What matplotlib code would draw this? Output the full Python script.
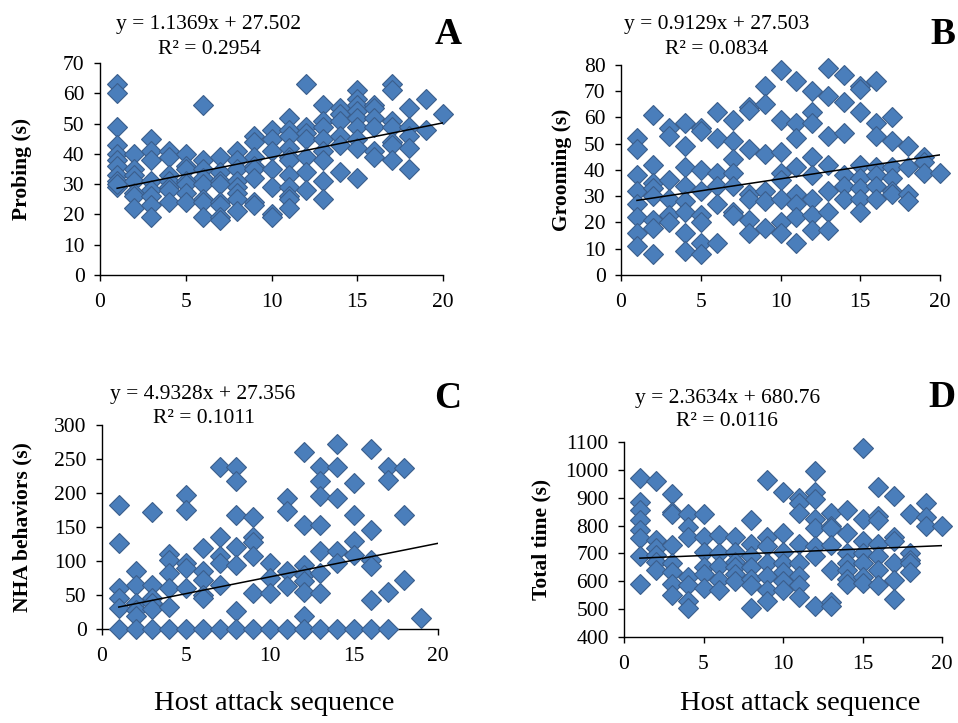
import matplotlib
matplotlib.use("Agg")
import matplotlib.pyplot as plt
import numpy as np

plt.rcParams['font.family'] = ['Liberation Serif', 'DejaVu Serif']

# ---------------- data (values per host attack sequence position 1..20) -------------
probing = [
    [63, 60, 49, 43, 40, 38, 36, 33, 31, 29, 30],
    [40, 35, 33, 31, 27, 26, 22],
    [45, 41, 38, 31, 28, 26, 23, 19],
    [41, 39, 33, 31, 29, 28, 24],
    [40, 36, 35, 31, 30, 27, 24],
    [56, 38, 35, 32, 30, 25, 24, 19],
    [39, 34, 31, 30, 24, 23, 19, 18],
    [41, 38, 35, 31, 29, 27, 25, 21],
    [46, 44, 39, 36, 35, 32, 24, 23],
    [48, 45, 41, 35, 29, 20, 19],
    [52, 48, 46, 42, 39, 38, 33, 29, 26, 25, 22],
    [63, 49, 47, 45, 39, 34, 28],
    [56, 51, 49, 45, 41, 38, 31, 25],
    [55, 53, 51, 46, 43, 34],
    [61, 58, 56, 54, 52, 49, 45, 42, 32],
    [56, 55, 52, 49, 41, 39],
    [63, 61, 51, 49, 44, 43, 38],
    [55, 49, 46, 42, 35],
    [58, 48],
    [53],
]
grooming = [
    [52, 48, 38, 32, 27, 22, 16, 11],
    [61, 42, 35, 33, 30, 21, 18, 8],
    [56, 53, 36, 29, 23, 20],
    [58, 49, 41, 34, 28, 24, 16, 9],
    [56, 55, 40, 32, 23, 20, 12, 8],
    [62, 52, 39, 34, 27, 12],
    [59, 51, 44, 39, 34, 24, 23],
    [64, 63, 48, 31, 29, 21, 16],
    [72, 65, 46, 32, 28, 18],
    [78, 59, 47, 39, 36, 29, 20, 16],
    [74, 58, 52, 41, 31, 27, 22, 12],
    [70, 62, 58, 45, 38, 29, 23, 17],
    [79, 68, 53, 42, 32, 24, 17],
    [76, 66, 54, 38, 34, 29],
    [72, 71, 62, 42, 37, 33, 29, 24],
    [74, 58, 53, 41, 38, 34, 29],
    [60, 51, 41, 37, 32, 31],
    [49, 41, 31, 28],
    [45, 43, 39],
    [39],
]
nha = [
    [182, 126, 60, 45, 31, 0],
    [85, 65, 38, 28, 19, 0],
    [172, 65, 45, 38, 30, 0],
    [110, 102, 82, 60, 33, 0],
    [197, 175, 97, 90, 60, 0],
    [119, 85, 72, 50, 45, 0],
    [238, 136, 107, 97, 65, 0],
    [238, 217, 168, 121, 94, 26, 0],
    [165, 136, 128, 107, 53, 0],
    [97, 75, 53, 0],
    [193, 173, 85, 63, 0],
    [260, 153, 94, 80, 70, 55, 19, 0],
    [238, 217, 195, 153, 114, 82, 53, 0],
    [272, 238, 192, 114, 97, 0],
    [214, 168, 129, 109, 0],
    [264, 146, 102, 92, 43, 0],
    [238, 219, 55, 0],
    [237, 168, 72],
    [16],
    [],
]
total = [
    [970, 885, 855, 820, 785, 755, 690, 590],
    [960, 750, 720, 695, 670, 640],
    [915, 850, 840, 730, 665, 635, 590, 550],
    [840, 795, 760, 615, 585, 530, 505],
    [840, 760, 705, 650, 625, 575],
    [765, 700, 655, 605, 570],
    [760, 705, 670, 650, 625, 600],
    [820, 735, 690, 650, 610, 585, 505],
    [965, 760, 725, 665, 620, 570, 530],
    [920, 775, 705, 665, 635, 600, 570],
    [900, 880, 845, 735, 665, 620, 585, 545],
    [995, 920, 895, 825, 790, 725, 690, 510],
    [845, 800, 790, 730, 640, 525, 510],
    [855, 775, 700, 665, 640, 610, 590],
    [1080, 825, 745, 700, 665, 615, 595],
    [940, 835, 820, 735, 690, 640, 585],
    [905, 760, 745, 665, 605, 535],
    [840, 700, 675, 665, 635],
    [880, 830, 800],
    [800],
]

slopes = [1.1369, 0.9129, 4.9328, 2.3634]
intercepts = [27.502, 27.503, 27.356, 680.76]
r2_values = [0.2954, 0.0834, 0.1011, 0.0116]
ylabels = ['Probing (s)', 'Grooming (s)', 'NHA behaviors (s)', 'Total time (s)']
panel_letters = ['A', 'B', 'C', 'D']
yranges = [(0, 70, 10), (0, 80, 10), (0, 300, 50), (400, 1100, 100)]
xlabel = 'Host attack sequence'

# ---------------- layout (pixel boxes: left, right, top, bottom) -----------------
W, H = 958, 723
boxes = [(100, 443, 63, 275), (621, 940, 65, 275), (102, 438, 425, 629), (624, 942, 442, 637)]
eq_pos = [(208, 25), (717, 25), (203, 395), (728, 398)]
r2_pos = [(209, 50), (717, 50), (204, 418), (727, 422)]
letter_pos = [(448, 35), (943, 35), (448, 398), (942, 397)]
ylab_pos = [(22, 169), (562, 170), (22, 527), (541, 539)]

fig = plt.figure(figsize=(W / 100, H / 100), dpi=100)

def fx(px):
    return px / W

def fy(py):
    return 1 - py / H

datasets = [probing, grooming, nha, total]
face = '#4A7EBB'
edge = '#3B5E8C'

for i, data in enumerate(datasets):
    l, r, t, b = boxes[i]
    ax = fig.add_axes([fx(l), fy(b), (r - l) / W, (b - t) / H])
    xs = []
    ys = []
    for k, vals in enumerate(data):
        for v in vals:
            xs.append(k + 1)
            ys.append(v)
    ax.plot(xs, ys, linestyle='none', marker='D', markersize=9.8,
            markerfacecolor=face, markeredgecolor=edge, markeredgewidth=0.8,
            clip_on=False, zorder=3)
    xl = np.array([1, 20])
    ax.plot(xl, slopes[i] * xl + intercepts[i], color='black', lw=1.1, zorder=4)
    y0, y1, ys_ = yranges[i]
    ax.set_xlim(0, 20)
    ax.set_ylim(y0, y1)
    ax.set_xticks(np.arange(0, 21, 5))
    ax.set_yticks(np.arange(y0, y1 + 1, ys_))
    for s in ['top', 'right']:
        ax.spines[s].set_visible(False)
    for s in ['left', 'bottom']:
        ax.spines[s].set_linewidth(1.0)
        ax.spines[s].set_color('black')
    ax.tick_params(direction='out', length=4, width=1.0, labelsize=15.5)
    ax.tick_params(axis='x', pad=9)
    ax.tick_params(axis='y', pad=7)
    ax.patch.set_alpha(0)

    fig.text(fx(eq_pos[i][0]), fy(eq_pos[i][1]),
             f'y = {slopes[i]:.4f}x + {intercepts[i]:g}',
             ha='center', va='center', fontsize=15.5)
    fig.text(fx(r2_pos[i][0]), fy(r2_pos[i][1]), f'R² = {r2_values[i]:.4f}',
             ha='center', va='center', fontsize=15.5)
    fig.text(fx(letter_pos[i][0]), fy(letter_pos[i][1]), panel_letters[i],
             ha='center', va='center', fontsize=27, fontweight='bold')
    fig.text(fx(ylab_pos[i][0]), fy(ylab_pos[i][1]), ylabels[i], rotation=90,
             ha='center', va='center', fontsize=15.5, fontweight='bold')

fig.text(fx(274), fy(703), xlabel, ha='center', va='center', fontsize=20.5)
fig.text(fx(800), fy(703), xlabel, ha='center', va='center', fontsize=20.5)

fig.savefig('out.png', dpi=100)
